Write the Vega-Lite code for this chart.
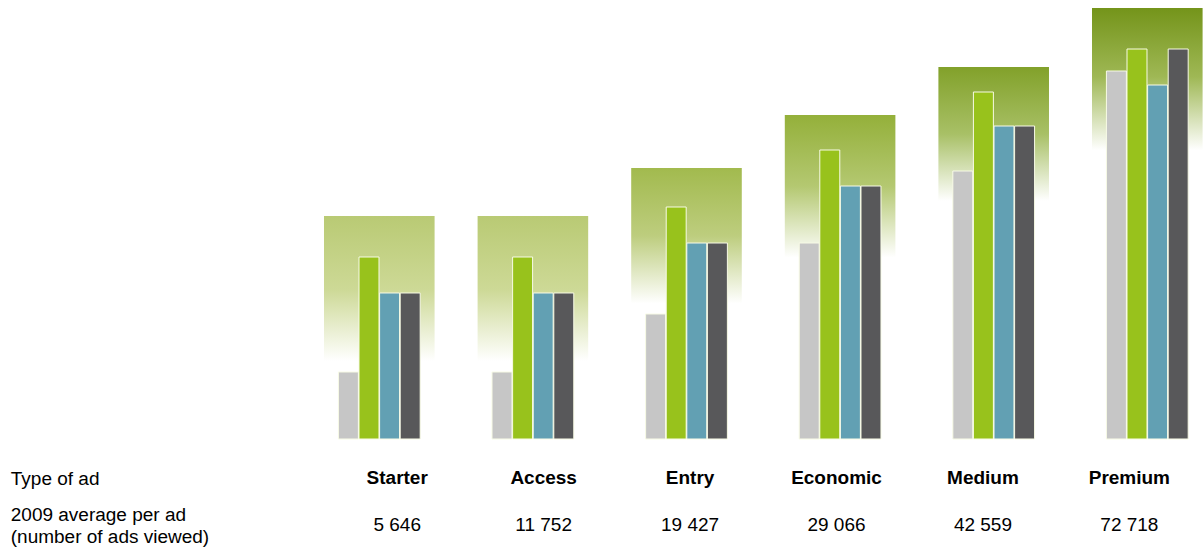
{
  "$schema": "https://vega.github.io/schema/vega-lite/v6.json",
  "padding": {"left": 10, "top": 0, "right": 0, "bottom": 0},
  "background": "white",
  "config": {"view": {"stroke": null}, "font": "Liberation Sans"},
  "datasets": {
    "groups": [
      {"type": "Starter", "bg": 223},
      {"type": "Access", "bg": 223},
      {"type": "Entry", "bg": 271},
      {"type": "Economic", "bg": 324},
      {"type": "Medium", "bg": 372},
      {"type": "Premium", "bg": 431}
    ],
    "bars": [
      {"type": "Starter", "series": "1", "value": 67},
      {"type": "Starter", "series": "2", "value": 182},
      {"type": "Starter", "series": "3", "value": 146},
      {"type": "Starter", "series": "4", "value": 146},
      {"type": "Access", "series": "1", "value": 67},
      {"type": "Access", "series": "2", "value": 182},
      {"type": "Access", "series": "3", "value": 146},
      {"type": "Access", "series": "4", "value": 146},
      {"type": "Entry", "series": "1", "value": 125},
      {"type": "Entry", "series": "2", "value": 232},
      {"type": "Entry", "series": "3", "value": 196},
      {"type": "Entry", "series": "4", "value": 196},
      {"type": "Economic", "series": "1", "value": 196},
      {"type": "Economic", "series": "2", "value": 289},
      {"type": "Economic", "series": "3", "value": 253},
      {"type": "Economic", "series": "4", "value": 253},
      {"type": "Medium", "series": "1", "value": 268},
      {"type": "Medium", "series": "2", "value": 347},
      {"type": "Medium", "series": "3", "value": 313},
      {"type": "Medium", "series": "4", "value": 313},
      {"type": "Premium", "series": "1", "value": 368},
      {"type": "Premium", "series": "2", "value": 390},
      {"type": "Premium", "series": "3", "value": 354},
      {"type": "Premium", "series": "4", "value": 390}
    ],
    "table": [
      {"type": "Starter", "row": "Type of ad", "text": "Starter"},
      {"type": "Access", "row": "Type of ad", "text": "Access"},
      {"type": "Entry", "row": "Type of ad", "text": "Entry"},
      {"type": "Economic", "row": "Type of ad", "text": "Economic"},
      {"type": "Medium", "row": "Type of ad", "text": "Medium"},
      {"type": "Premium", "row": "Type of ad", "text": "Premium"},
      {"type": "Starter", "row": "2009 average per ad\n(number of ads viewed)", "text": "5 646"},
      {"type": "Access", "row": "2009 average per ad\n(number of ads viewed)", "text": "11 752"},
      {"type": "Entry", "row": "2009 average per ad\n(number of ads viewed)", "text": "19 427"},
      {"type": "Economic", "row": "2009 average per ad\n(number of ads viewed)", "text": "29 066"},
      {"type": "Medium", "row": "2009 average per ad\n(number of ads viewed)", "text": "42 559"},
      {"type": "Premium", "row": "2009 average per ad\n(number of ads viewed)", "text": "72 718"}
    ]
  },
  "spacing": 15,
  "vconcat": [
    {
      "width": 878.6,
      "height": 439,
      "layer": [
        {
          "data": {"name": "groups"},
          "mark": {"type": "bar"},
          "encoding": {
            "x": {"field": "type", "type": "nominal", "sort": ["Starter", "Access", "Entry", "Economic", "Medium", "Premium"], "scale": {"paddingInner": 0.28, "paddingOuter": 0}, "axis": null},
            "y": {"field": "bg", "type": "quantitative", "scale": {"domain": [0, 439], "nice": false, "zero": true}, "axis": null},
            "fill": {
              "condition": [
                {"test": "datum.type === 'Starter' || datum.type === 'Access'", "value": {"gradient": "linear", "x1": 0, "y1": 0, "x2": 0, "y2": 1, "stops": [{"offset": 0, "color": "#b9ca74"}, {"offset": 0.33, "color": "#cdd996"}, {"offset": 0.65, "color": "#ffffff"}, {"offset": 1, "color": "#ffffff"}]}},
                {"test": "datum.type === 'Entry'", "value": {"gradient": "linear", "x1": 0, "y1": 0, "x2": 0, "y2": 1, "stops": [{"offset": 0, "color": "#a2ba4e"}, {"offset": 0.25, "color": "#bdcd7e"}, {"offset": 0.5, "color": "#ffffff"}, {"offset": 1, "color": "#ffffff"}]}},
                {"test": "datum.type === 'Economic'", "value": {"gradient": "linear", "x1": 0, "y1": 0, "x2": 0, "y2": 1, "stops": [{"offset": 0, "color": "#94b03a"}, {"offset": 0.22, "color": "#b4c871"}, {"offset": 0.44, "color": "#ffffff"}, {"offset": 1, "color": "#ffffff"}]}},
                {"test": "datum.type === 'Medium'", "value": {"gradient": "linear", "x1": 0, "y1": 0, "x2": 0, "y2": 1, "stops": [{"offset": 0, "color": "#82a12a"}, {"offset": 0.18, "color": "#a8c066"}, {"offset": 0.36, "color": "#ffffff"}, {"offset": 1, "color": "#ffffff"}]}}
              ],
              "value": {"gradient": "linear", "x1": 0, "y1": 0, "x2": 0, "y2": 1, "stops": [{"offset": 0, "color": "#74941a"}, {"offset": 0.16, "color": "#9fb855"}, {"offset": 0.33, "color": "#ffffff"}, {"offset": 1, "color": "#ffffff"}]}
            }
          }
        },
        {
          "data": {"name": "bars"},
          "mark": {"type": "bar", "stroke": "#f8fbe6", "strokeWidth": 1},
          "encoding": {
            "x": {"field": "type", "type": "nominal", "sort": ["Starter", "Access", "Entry", "Economic", "Medium", "Premium"], "axis": null},
            "xOffset": {"field": "series", "type": "nominal", "sort": ["1", "2", "3", "4"], "scale": {"paddingInner": 0.03, "paddingOuter": 0.7}},
            "y": {"field": "value", "type": "quantitative"},
            "color": {"field": "series", "type": "nominal", "scale": {"domain": ["1", "2", "3", "4"], "range": ["#c6c6c6", "#98c21c", "#62a0b3", "#58585a"]}, "legend": null}
          }
        }
      ]
    },
    {
      "width": 878.6,
      "height": 94,
      "data": {"name": "table"},
      "encoding": {
        "x": {"field": "type", "type": "nominal", "sort": ["Starter", "Access", "Entry", "Economic", "Medium", "Premium"], "scale": {"paddingInner": 0.28, "paddingOuter": 0}, "axis": null},
        "y": {
          "field": "row", "type": "nominal",
          "scale": {"type": "point", "padding": 0.5, "domain": ["Type of ad", "2009 average per ad\n(number of ads viewed)"]},
          "axis": {"title": null, "domain": false, "ticks": false, "tickSize": 0, "grid": false, "labelAlign": "left", "labelBaseline": "middle", "labelPadding": 313.7, "labelFontSize": 19, "labelColor": "#000000", "labelFont": "Liberation Sans", "labelLineHeight": 22, "labelLimit": 0, "labelOffset": {"condition": {"test": "datum.value === 'Type of ad'", "value": 0}, "value": -11}, "labelExpr": "split(datum.label, '\\n')"}
        },
        "text": {"field": "text", "type": "nominal"}
      },
      "layer": [
        {
          "transform": [{"filter": "datum.row === 'Type of ad'"}],
          "mark": {"type": "text", "fontSize": 19, "fontWeight": "bold", "color": "#000000", "baseline": "middle", "font": "Liberation Sans"}
        },
        {
          "transform": [{"filter": "datum.row !== 'Type of ad'"}],
          "mark": {"type": "text", "fontSize": 19, "color": "#000000", "baseline": "middle", "font": "Liberation Sans"}
        }
      ]
    }
  ]
}
